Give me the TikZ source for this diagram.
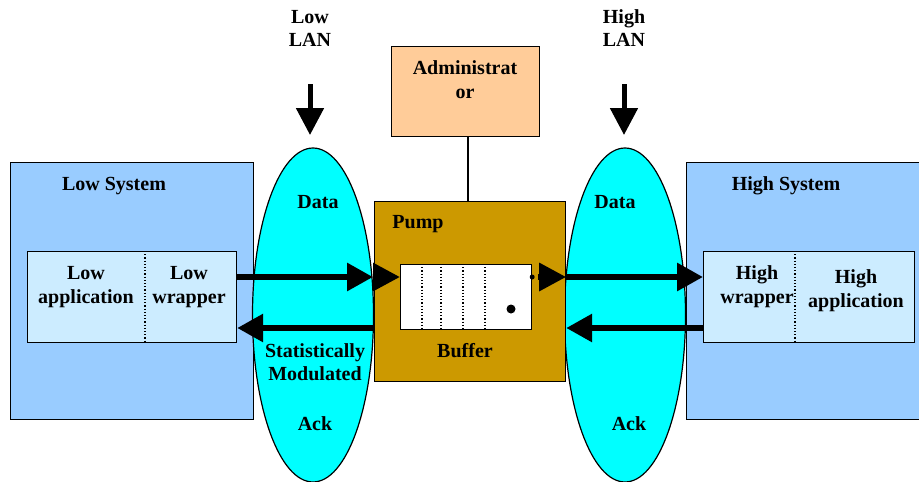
\documentclass[tikz,border=0pt]{standalone}
\usepackage{fontspec}
\setmainfont{Liberation Serif}
\usetikzlibrary{arrows.meta,shapes.geometric}
\definecolor{sysblue}{HTML}{99CCFF}
\definecolor{appblue}{HTML}{CCECFF}
\definecolor{cyanc}{HTML}{00FFFF}
\definecolor{pumpc}{HTML}{CC9900}
\definecolor{adminc}{HTML}{FFCC99}
\tikzset{
  box/.style={draw=black, line width=1.2pt, rectangle, inner sep=0pt, anchor=north west},
  oval/.style={draw=black, line width=1.2pt, ellipse, fill=cyanc, inner sep=0pt, minimum width=121pt, minimum height=334pt},
  lbl/.style={font=\bfseries\fontsize{20}{24}\selectfont, align=center, anchor=base, inner sep=0pt},
  divider/.style={line width=1.2pt, dotted},
  fat/.style={line width=6pt, -{Triangle[length=26pt,width=27pt]}},
  headonly/.style={line width=6pt, -{Triangle[length=27pt,width=27pt]}},
  lanarrow/.style={line width=5pt, -{Triangle[length=27pt,width=27pt]}},
}
\begin{document}
\begin{tikzpicture}[x=1pt,y=-1pt]
\useasboundingbox (0,0) rectangle (919,482);
% systems
\node[box, fill=sysblue, minimum width=243pt, minimum height=257pt] (lowsys) at (10,162) {};
\node[box, fill=sysblue, minimum width=260pt, minimum height=257pt] (highsys) at (686,162) {};
% ellipses
\node[oval] (lowlan) at (313,315) {};
\node[oval] (highlan) at (625,315) {};
% inner application boxes
\node[box, fill=appblue, minimum width=209pt, minimum height=91pt] (lowapp) at (27,251) {};
\node[box, fill=appblue, minimum width=211pt, minimum height=91pt] (highapp) at (703,251) {};
\draw[divider] (145,251) -- (145,342);
\draw[divider] (795,251) -- (795,342);
% pump and administrator
\node[box, fill=pumpc, minimum width=191pt, minimum height=180pt] (pump) at (374,201) {};
\node[box, fill=adminc, minimum width=148pt, minimum height=90pt] (admin) at (391,46) {};
\draw[line width=1.2pt] (pump.north -| 468,0) -- (admin.south -| 468,0);
% buffer
\node[box, fill=white, minimum width=131pt, minimum height=65pt] (buffer) at (400,264) {};
\foreach \x in {422,441,463,485} \draw[divider] (\x,264) -- (\x,329);
\fill (511,309) circle (4.5pt);
% connector levels
\coordinate (dataline) at (0,277);
\coordinate (ackline) at (0,328);
\coordinate (lel) at (373,277);
\coordinate (rhead) at (538,277);
\fill (buffer.east |- dataline) circle (2.5pt);
% data arrows
\draw[fat] (lowapp.east |- dataline) -- (lel);
\draw[headonly] (lel) -- (buffer.west |- dataline);
\draw[headonly] (rhead) -- (pump.east |- dataline);
\draw[fat] (pump.east |- dataline) -- (highapp.west |- dataline);
% ack arrows
\draw[fat] (pump.west |- ackline) -- (lowapp.east |- ackline);
\draw[fat] (highapp.west |- ackline) -- (pump.east |- ackline);
% LAN arrows
\coordinate (lla) at (310,84);
\coordinate (llb) at (310,135);
\coordinate (hla) at (624,84);
\coordinate (hlb) at (624,135);
\draw[lanarrow] (lla) -- (llb);
\draw[lanarrow] (hla) -- (hlb);
% labels (base = baseline of the last line)
\node[lbl, font=\bfseries\fontsize{20}{23}\selectfont] (tlowlan) at (310,46) {Low\\LAN};
\node[lbl, font=\bfseries\fontsize{20}{23}\selectfont] (thighlan) at (624,46) {High\\LAN};
\node[lbl] (tadmin) at (465,98) {Administrat\\or};
\node[lbl] (tlowsys) at (114,190) {Low System};
\node[lbl] (thighsys) at (786,190) {High System};
\node[lbl] (tlowapp) at (86,303) {Low\\application};
\node[lbl] (tlowwrap) at (189,303) {Low\\wrapper};
\node[lbl] (thighwrap) at (757,303) {High\\wrapper};
\node[lbl] (thighapp) at (856,307) {High\\application};
\node[lbl] (tdata1) at (318,208) {Data};
\node[lbl] (tdata2) at (615,208) {Data};
\node[lbl] (tpump) at (418,228) {Pump};
\node[lbl] (tbuffer) at (465,357) {Buffer};
\node[lbl, font=\bfseries\fontsize{20}{23}\selectfont] (tstat) at (315,380) {Statistically\\Modulated};
\node[lbl] (tack1) at (315,430) {Ack};
\node[lbl] (tack2) at (629,430) {Ack};
\end{tikzpicture}
\end{document}
